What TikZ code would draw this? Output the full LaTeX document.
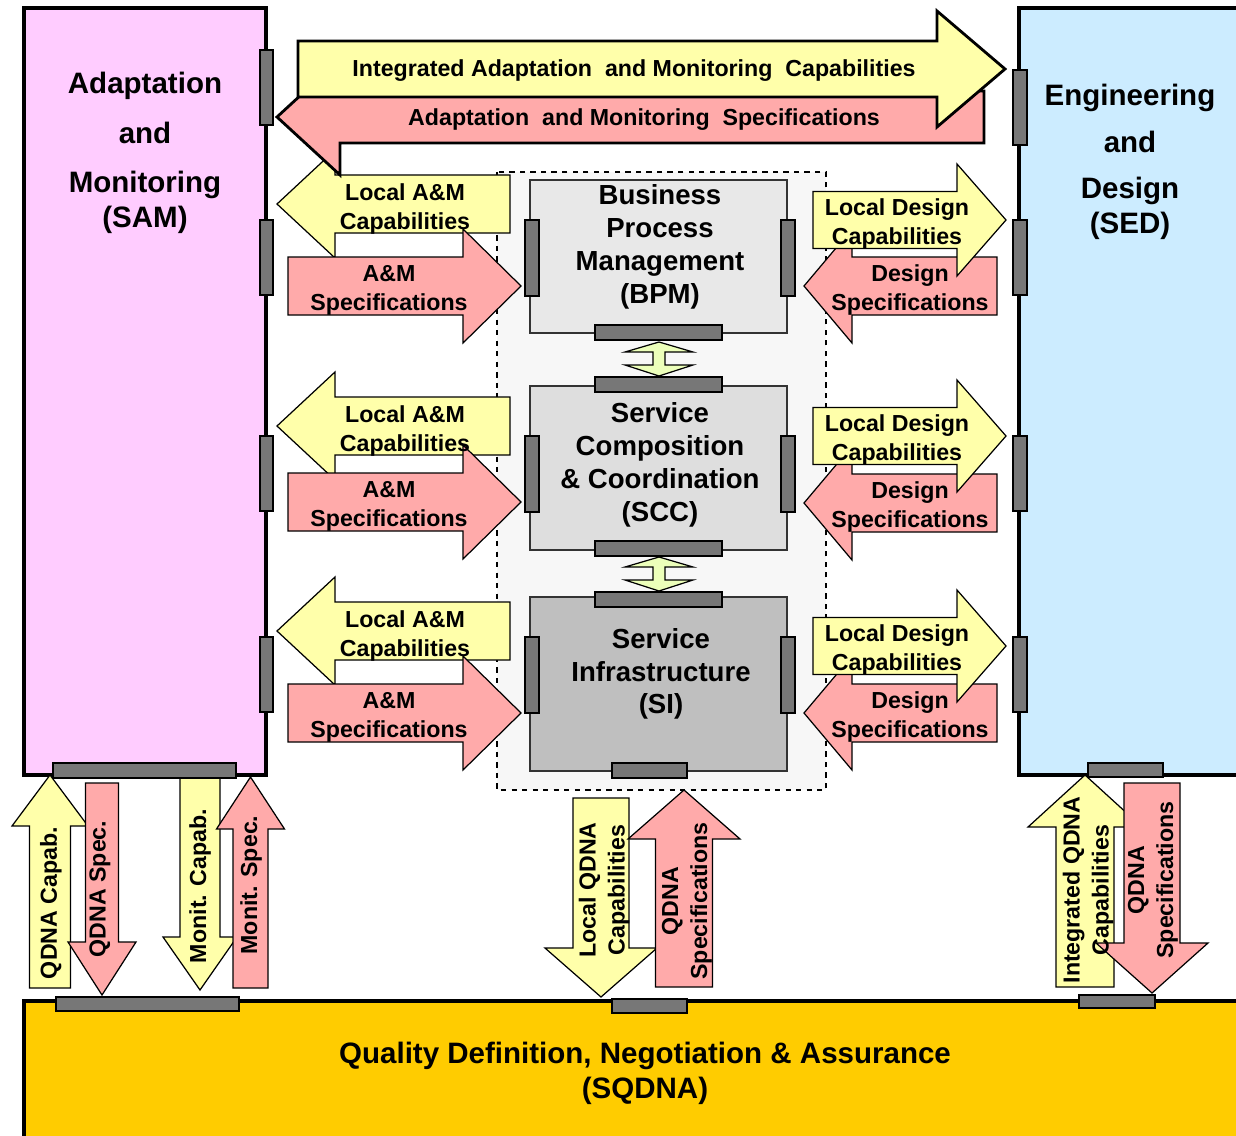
\documentclass[tikz,border=0pt]{standalone}
\usepackage{fontspec}
\setmainfont{Liberation Sans}
\usepackage{tikz}
\definecolor{sampink}{RGB}{255,204,255}
\definecolor{sedblue}{RGB}{204,236,255}
\definecolor{sqdnagold}{RGB}{255,204,0}
\definecolor{capyellow}{RGB}{255,255,170}
\definecolor{specpink}{RGB}{255,170,170}
\definecolor{tabgray}{RGB}{119,119,119}
\definecolor{linkgreen}{RGB}{236,255,186}
\tikzstyle{bigbox} = [draw, line width=2.6pt]
\tikzstyle{layer} = [draw=black!80, line width=0.7pt]
\tikzstyle{tabbox} = [draw, fill=tabgray, line width=0.7pt]
\tikzstyle{capflow} = [draw, fill=capyellow, line width=0.7pt]
\tikzstyle{specflow} = [draw, fill=specpink, line width=0.7pt]
\tikzstyle{bigtxt} = [font=\bfseries\fontsize{16.8}{19.8}\selectfont, align=center]
\tikzstyle{midtxt} = [font=\bfseries\fontsize{15.7}{18.7}\selectfont, align=center]
\tikzstyle{smalltxt} = [font=\bfseries\fontsize{13.2}{16.5}\selectfont, align=center]

% block arrows: style, start, head base, tip, axis, body half width, head half width
\newcommand{\harrow}[7]{\path[#1] (#2,#5-#6) -- (#3,#5-#6) -- (#3,#5-#7) -- (#4,#5)
  -- (#3,#5+#7) -- (#3,#5+#6) -- (#2,#5+#6) -- cycle;}
\newcommand{\varrow}[7]{\path[#1] (#5-#6,#2) -- (#5-#6,#3) -- (#5-#7,#3) -- (#5,#4)
  -- (#5+#7,#3) -- (#5+#6,#3) -- (#5+#6,#2) -- cycle;}
% double arrow between two layers, top tip at #1
\newcommand{\linkarrow}[1]{\path[draw, fill=linkgreen, line width=0.7pt]
  (659,#1) -- (693,#1+10) -- (665,#1+10) -- (665,#1+23) -- (693,#1+23) -- (659,#1+34)
  -- (625,#1+23) -- (653,#1+23) -- (653,#1+10) -- (625,#1+10) -- cycle;}

\begin{document}
\begin{tikzpicture}[x=0.02cm, y=-0.02cm]
  \useasboundingbox (0,0) rectangle (1236,1135);
  \clip (0,0) rectangle (1236,1135);

  \path[bigbox, fill=sampink] (24,8) rectangle (266,775);
  \path[bigbox, fill=sedblue] (1019,8) rectangle (1260,775);
  \path[bigbox, fill=sqdnagold] (24,1001) rectangle (1260,1160);

  \path[draw, dashed, fill=black!3, line width=0.6pt] (497,172) rectangle (826,790);
  \path[layer, fill=black!9] (530,180) rectangle (787,333);
  \path[layer, fill=black!13] (530,386) rectangle (787,550);
  \path[layer, fill=black!25] (530,597) rectangle (787,771);
  \linkarrow{342}
  \linkarrow{557}

  % local arrows, SAM side and SED side
  \foreach \yc/\ys in {204/286, 426/502, 631/713} {
    \harrow{capflow}{510}{335}{277}{\yc}{29}{54}
    \harrow{specflow}{288}{463}{521}{\ys}{29}{57}
  }
  \foreach \yc/\ys in {220/286, 436/503, 646/713} {
    \harrow{specflow}{997}{852}{804}{\ys}{29}{57}
    \harrow{capflow}{813}{957}{1006}{\yc}{28.5}{56}
  }

  % integrated arrows
  \harrow{specflow, line width=1.6pt}{984}{340}{277}{117}{26}{58}
  \harrow{capflow, line width=1.6pt}{298}{937}{1005}{69}{28}{58}

  % QDNA arrows
  \varrow{capflow}{988}{826}{775}{50}{20.5}{38}
  \varrow{specflow}{783}{942}{995}{102}{16.5}{34}
  \varrow{capflow}{776}{937}{990}{200}{20}{37}
  \varrow{specflow}{988}{829}{777}{250.5}{17.5}{34}
  \varrow{capflow}{798}{948}{997}{601}{28}{56}
  \varrow{specflow}{987}{839}{790}{684}{28.5}{56}
  \varrow{capflow}{987}{827}{775}{1085}{29}{57}
  \varrow{specflow}{783}{943}{993}{1152}{28}{56}

  % tabs
  \foreach \y in {50,220,436,637} \path[tabbox] (260,\y) rectangle (273,\y+75);
  \foreach \y in {70,220,436,637} \path[tabbox] (1013,\y) rectangle (1027,\y+75);
  \foreach \y in {220,436,637} {
    \path[tabbox] (525,\y) rectangle (539,\y+76);
    \path[tabbox] (781,\y) rectangle (795,\y+76);
  }
  \foreach \y in {325,377,541,592} \path[tabbox] (595,\y) rectangle (722,\y+15);
  \path[tabbox] (612,763) rectangle (687,778);
  \path[tabbox] (53,763) rectangle (236,778);
  \path[tabbox] (1088,763) rectangle (1163,777);
  \path[tabbox] (56,997) rectangle (239,1011);
  \path[tabbox] (612,999) rectangle (687,1013);
  \path[tabbox] (1079,995) rectangle (1155,1008);

  \node[bigtxt] (sam) at (145,153) {Adaptation\\[8.5pt]and\\[8.5pt]Monitoring\\(SAM)};
  \node[bigtxt] (sed) at (1130,162) {Engineering\\[6.8pt]and\\[6.8pt]Design\\(SED)};
  \node[bigtxt] (sqdna) at (645,1073) {Quality Definition, Negotiation \& Assurance\\(SQDNA)};

  \node[midtxt] (bpm) at (660,247) {Business\\Process\\Management\\(BPM)};
  \node[midtxt] (scc) at (660,465) {Service\\Composition\\\& Coordination\\(SCC)};
  \node[midtxt] (si) at (661,674) {Service\\Infrastructure\\(SI)};

  \node[smalltxt] (intcap) at (634,71) {Integrated Adaptation \ and Monitoring \ Capabilities};
  \node[smalltxt] (amspec) at (644,120) {Adaptation \ and Monitoring \ Specifications};

  \foreach \yc/\ys [count=\i] in {204/286, 426/502, 631/713} {
    \node[smalltxt] (lcap\i) at (405,\yc+5) {Local A\&M\\Capabilities};
    \node[smalltxt] (lspec\i) at (389,\ys+4) {A\&M\\Specifications};
  }
  \foreach \yc/\ys [count=\i] in {220/286, 436/503, 646/713} {
    \node[smalltxt] (rcap\i) at (897,\yc+4) {Local Design\\Capabilities};
    \node[smalltxt] (rspec\i) at (910,\ys+4) {Design\\Specifications};
  }

  \node[smalltxt, rotate=90] (qcap) at (51,903) {QDNA Capab.};
  \node[smalltxt, rotate=90] (qspec) at (100,889) {QDNA Spec.};
  \node[smalltxt, rotate=90] (mcap) at (200,886) {Monit. Capab.};
  \node[smalltxt, rotate=90] (mspec) at (251,885) {Monit. Spec.};
  \node[smalltxt, rotate=90] (lqcap) at (604,890) {Local QDNA\\Capabilities};
  \node[smalltxt, rotate=90] (lqspec) at (687,901) {QDNA\\Specifications};
  \node[smalltxt, rotate=90] (iqcap) at (1088,890) {Integrated QDNA\\Capabilities};
  \node[smalltxt, rotate=90] (iqspec) at (1153,880) {QDNA\\Specifications};
\end{tikzpicture}
\end{document}
